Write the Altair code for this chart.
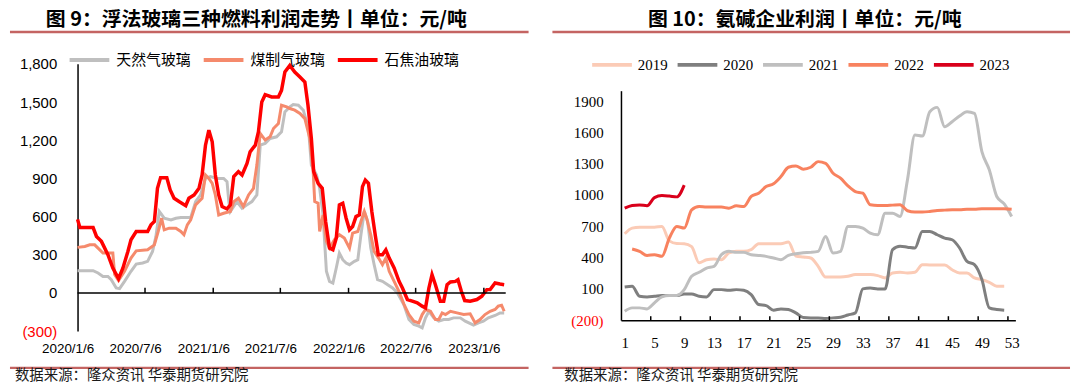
import altair as alt
import pandas as pd

# ---------------- data: left panel (weekly, x = weeks since 2020/1/6) ----------------
START = pd.Timestamp("2020-01-06")
GLASS_SERIES = ["天然气玻璃", "煤制气玻璃", "石焦油玻璃"]
GLASS_COLORS = ["#BFBFBF", "#F58A6C", "#FF0000"]

GAS = [(0,175),(6,175),(7.9,157),(9.8,130),(11.7,130),(13,104),(14.9,39),(16.2,34),(18.1,91),(20.6,170),
       (22.6,227),(25.1,235),(27,248),(28.9,326),(30.2,444),(31.5,640),(33.4,587),(36,574),(37.9,587),(39.8,592),
       (43.6,592),(45.5,718),(47.4,770),(49.3,900),(51.2,914),(53.8,900),(56.3,900),(57.6,874),(58.3,718),(58.9,640),
       (61.4,718),(63.4,666),(65.3,692),(67.2,718),(69.1,770),(70.4,1161),(72.3,1175),(74.2,1214),(76.7,1227),(78.6,1266),
       (79.9,1423),(81.8,1462),(83.1,1480),(85.1,1475),(87,1436),(89,1292),(90.1,1005),(92.1,927),(93.3,822),(94.6,613),
       (95.9,170),(97.1,91),(98.4,78),(99.7,196),(100.9,313),(102.2,261),(103.5,235),(104.8,222),(106.7,248),(108,261),
       (109.2,457),(110.5,640),(111.8,561),(113,352),(114.3,222),(115.6,104),(117.5,91),(119.5,65),(121.4,39),(123.3,0),
       (125.8,-95),(127.7,-209),(129.6,-248),(131.5,-261),(132.8,-274),(134.1,-196),(135.4,-144),(137.3,-196),(139.2,-222),
       (141.1,-209),(143,-209),(144.9,-196),(147.5,-196),(149.4,-222),(152.6,-253),(154.5,-235),(156.4,-222),(158.3,-196),
       (160.9,-177),(162.8,-157),(164.4,-157)]

COAL = [(0,358),(2.8,365),(4.7,378),(6.6,378),(7.9,352),(9.8,313),(13.6,313),(14.3,144),(15.8,97),(18.1,170),
        (20.6,274),(22.6,331),(27,339),(29.6,378),(31.1,483),(32.4,587),(33.4,496),(35.3,509),(37.9,509),(39.8,483),
        (41,457),(42.3,535),(43.6,574),(45.5,692),(46.8,718),(48,744),(49.3,927),(50.6,900),(51.9,861),(53.1,770),
        (54.4,613),(56.3,626),(58.9,640),(60.2,718),(62,744),(63.9,679),(65.9,770),(67.8,822),(69.1,1005),(70.4,1253),
        (72.3,1201),(74.2,1227),(75.5,1292),(77.4,1331),(78.6,1475),(80.6,1462),(81.8,1449),(83.7,1436),(85.7,1410),
        (87.6,1370),(89.5,1214),(90.8,953),(91.4,718),(92.7,705),(93.3,483),(94.6,613),(95.9,405),(97.1,352),(99,418),
        (100.9,457),(102.8,431),(104.8,352),(106,470),(108,483),(109.2,561),(110.5,640),(111.4,587),(113,457),(114.3,326),
        (116,274),(117.5,222),(118.8,274),(120.1,170),(122,91),(123.9,10),(125.8,-90),(127.7,-170),(129.6,-222),
        (131.5,-235),(132.8,-170),(134.1,-130),(136,-144),(137.9,-209),(139.2,-209),(140.5,-157),(141.8,-170),(143.7,-144),
        (146.2,-157),(148.8,-170),(151.3,-164),(153.2,-235),(155.1,-209),(157,-170),(159,-144),(160.9,-130),(162.1,-104),
        (163.4,-97),(164.4,-144)]

OIL = [(0,578),(0.9,514),(6,514),(7.3,444),(9.2,405),(11.7,300),(13.6,196),(15.8,112),(17.5,196),(19.4,326),
       (20.6,418),(22.6,483),(27,483),(28.3,535),(29.6,561),(30.8,822),(32,906),(34.4,906),(35.7,809),(37.2,744),
       (39.1,718),(41.7,686),(42.9,744),(44.9,770),(46.8,822),(48,927),(49.3,1161),(50.6,1279),(51.9,1188),(53.1,927),
       (54.4,770),(55.7,679),(57.6,660),(58.9,692),(60.2,914),(62,953),(63.4,927),(65.3,1018),(66.5,1109),(68.5,1161),
       (69.7,1266),(71,1501),(72.3,1558),(74.8,1540),(77.4,1540),(78.6,1592),(79.9,1736),(81.8,1788),(83.7,1736),
       (85.7,1697),(87.6,1657),(88.8,1475),(90.1,1214),(91,953),(92.7,861),(94.3,822),(95.6,561),(97.1,352),(98.4,339),
       (99.7,431),(100.9,692),(102.2,705),(103.5,587),(104.8,496),(106,522),(107.3,600),(108.6,613),(109.8,835),
       (110.9,887),(112.1,861),(113.4,640),(114.7,457),(115.9,300),(117.5,300),(118.8,339),(120.1,274),(122,196),
       (123.9,91),(125.2,39),(127.1,-52),(129,-65),(130.9,-78),(132.8,-104),(134.1,-117),(135.4,39),(136.6,144),
       (137.9,65),(139.8,-65),(141.1,-65),(142.4,65),(143.7,86),(145.6,91),(146.6,104),(147.9,13),(149.2,-60),
       (151.3,-65),(153.9,-52),(155.8,-26),(157.7,26),(159,26),(160.9,78),(162.8,70),(164.4,65)]

LEFT_TICK_DATES = ["2020-07-06", "2021-01-06", "2021-07-06", "2022-01-06", "2022-07-06", "2023-01-06"]
LEFT_LABEL_MONTHS = [(2020, 1), (2020, 7), (2021, 1), (2021, 7), (2022, 1), (2022, 7), (2023, 1)]
LEFT_Y_TICKS = [-300, 0, 300, 600, 900, 1200, 1500, 1800]

# ---------------- data: right panel (week 1..53) ----------------
YEARS = ["2019", "2020", "2021", "2022", "2023"]
YEAR_COLORS = ["#FBCBB6", "#7F7F7F", "#BFBFBF", "#F8825F", "#D9001B"]

Y2019 = [629, 683, 692, 692, 692, 699, 560, 535, 533, 505, 350, 380, 386, 380, 444, 460, 460, 476, 533, 533,
         533, 533, 549, 415, 405, 396, 316, 214, 214, 214, 221, 237, 237, 237, 227, 205, 253, 259, 253, 259,
         332, 329, 329, 329, 284, 253, 253, 205, 189, 163, 125, 125]
Y2020 = [119, 125, 29, 23, 29, 36, 36, 36, 52, 52, 29, 23, 93, 93, 87, 93, 87, 45, -50, -60,
         -104, -92, -98, -130, -175, -178, -178, -184, -178, -172, -150, -130, 100, 109, 100, 100, 476, 508, 500, 492,
         651, 651, 619, 587, 571, 492, 364, 332, 189, -82, -98, -104]
Y2021 = [-114, -82, -82, -92, -34, 23, 36, 36, 93, 221, 259, 300, 316, 428, 460, 450, 450, 428, 421, 412,
         396, 380, 421, 437, 447, 450, 460, 603, 444, 460, 699, 699, 683, 635, 619, 826, 826, 794, 1145, 1575,
         1565, 1798, 1840, 1655, 1703, 1757, 1798, 1782, 1416, 1241, 986, 915, 794]
Y2022 = [None, 482, 460, 421, 428, 412, 587, 699, 683, 858, 890, 884, 884, 884, 874, 896, 890, 986, 1017, 1081,
         1107, 1177, 1266, 1279, 1247, 1266, 1320, 1304, 1209, 1161, 1088, 1033, 1017, 906, 900, 900, 903, 906, 849, 836,
         836, 842, 852, 855, 858, 858, 864, 864, 868, 868, 868, 868, 864]
Y2023 = [874, 900, 905, 897, 975, 995, 990, 982, 1095]

RIGHT_X_LABELS = list(range(1, 54, 4))
RIGHT_TICK_POS = [4.5, 8.5, 12.5, 16.5, 20.5, 24.5, 28.5, 32.5, 36.5, 40.5, 44.5, 48.5, 52.5]
RIGHT_Y_TICKS = [-200, 100, 400, 700, 1000, 1300, 1600, 1900]

TITLE_L = "图 9：浮法玻璃三种燃料利润走势丨单位：元/吨"
TITLE_R = "图 10：氨碱企业利润丨单位：元/吨"
SOURCE = "数据来源：隆众资讯 华泰期货研究院"

CJK = "Noto Sans CJK SC"
SEP_COLOR = "#C46462"

# ---------------- tables ----------------
rows = []
for name, pts in zip(GLASS_SERIES, [GAS, COAL, OIL]):
    for w, v in pts:
        d = START + pd.Timedelta(days=w * 7)
        rows.append({"series": name, "date": d.strftime("%Y-%m-%dT%H:%M:%S"), "value": v})
glass = pd.DataFrame(rows)

ticks_l = pd.DataFrame({"date": [d + "T00:00:00" for d in LEFT_TICK_DATES], "y0": 0, "y1": 40})

rows = []
for yr, vals in zip(YEARS, [Y2019, Y2020, Y2021, Y2022, Y2023]):
    for i, v in enumerate(vals):
        if v is not None:
            rows.append({"year": yr, "week": i + 1, "value": v})
soda = pd.DataFrame(rows)
ticks_r = pd.DataFrame({"pos": RIGHT_TICK_POS, "y0": -200, "y1": -162})

# ---------------- left panel ----------------
WL, HL = 431, 269
xs_l = alt.Scale(domain=[alt.DateTime(year=2020, month=1, date=6), alt.DateTime(year=2023, month=3, date=6)], nice=False)
ys_l = alt.Scale(domain=[-300, 1800], nice=False, zero=False)
xax_l = alt.Axis(values=[alt.DateTime(year=y, month=m, date=6) for y, m in LEFT_LABEL_MONTHS],
                 format="%Y/%-m/%-d", title=None, ticks=False, domain=False, grid=False,
                 labelFont="Liberation Sans", labelFontSize=13.5, labelColor="black",
                 labelPadding=11, labelOffset=-10, labelFlush=False, labelOverlap=False, labelAlign="center")
yax_l = alt.Axis(values=LEFT_Y_TICKS, title=None, ticks=False, grid=False, domainColor="black", domainWidth=1.5,
                 labelFont="Liberation Sans", labelFontSize=15, labelPadding=21,
                 labelExpr="datum.value < 0 ? '(' + format(-datum.value, ',') + ')' : format(datum.value, ',')",
                 labelColor={"condition": {"test": "datum.value < 0", "value": "#FF0000"}, "value": "black"})
color_l = alt.Color("series:N", scale=alt.Scale(domain=GLASS_SERIES, range=GLASS_COLORS),
                    legend=alt.Legend(orient="none", legendX=-10, legendY=-26, direction="horizontal", title=None,
                                      symbolType="stroke", symbolSize=1600, symbolStrokeWidth=4,
                                      labelFont=CJK, labelFontSize=15, labelColor="black", labelOffset=5,
                                      columnPadding=4, padding=0))

base_l = alt.Chart(glass)
lines_l = []
for name, sw in zip(GLASS_SERIES, [3, 3, 3.5]):
    lines_l.append(base_l.transform_filter(alt.datum.series == name).mark_line(strokeWidth=sw).encode(
        x=alt.X("date:T", scale=xs_l, axis=xax_l),
        y=alt.Y("value:Q", scale=ys_l, axis=yax_l),
        color=color_l))

zero_l = alt.Chart(pd.DataFrame({"v": [0]})).mark_rule(color="black", strokeWidth=1.5).encode(
    y=alt.Y("v:Q", scale=ys_l, axis=yax_l))
tick_l = alt.Chart(ticks_l).mark_rule(color="black", strokeWidth=1.5).encode(
    x=alt.X("date:T", scale=xs_l, axis=xax_l), y=alt.Y("y0:Q", scale=ys_l, axis=yax_l), y2="y1:Q")

title_l = alt.Chart(pd.DataFrame({"t": [TITLE_L]})).mark_text(
    font=CJK, fontSize=20, fontWeight="bold", color="black", align="center", baseline="middle").encode(
    x=alt.value(180), y=alt.value(-44), text="t:N")
sep_top_l = alt.Chart(pd.DataFrame({"a": [0]})).mark_rule(color=SEP_COLOR, strokeWidth=2.5).encode(
    x=alt.value(-68), x2=alt.value(454), y=alt.value(-32))
sep_bot_l = alt.Chart(pd.DataFrame({"a": [0]})).mark_rule(color=SEP_COLOR, strokeWidth=2.5).encode(
    x=alt.value(-68), x2=alt.value(454), y=alt.value(306))
src_l = alt.Chart(pd.DataFrame({"t": [SOURCE]})).mark_text(
    font=CJK, fontSize=14.5, color="#1a1a1a", align="left", baseline="middle").encode(
    x=alt.value(-63), y=alt.value(314), text="t:N")

left = alt.layer(*lines_l, zero_l, tick_l, title_l, sep_top_l, sep_bot_l, src_l).properties(width=WL, height=HL)

# ---------------- right panel ----------------
WR, HR = 397, 258
xs_r = alt.Scale(domain=[0.5, 53.5], nice=False, zero=False)
ys_r = alt.Scale(domain=[-200, 2000], range=[258, 27], nice=False, zero=False)
xax_r = alt.Axis(values=RIGHT_X_LABELS, title=None, ticks=False, grid=False, domainColor="black", domainWidth=1.5,
                 labelFont="Liberation Serif", labelFontSize=15, labelColor="black", labelPadding=15,
                 labelFlush=False, labelOverlap=False)
yax_r = alt.Axis(values=RIGHT_Y_TICKS, title=None, ticks=False, grid=False, domainColor="black", domainWidth=1.5,
                 labelFont="Liberation Serif", labelFontSize=15, labelPadding=18,
                 labelExpr="datum.value < 0 ? '(' + (-datum.value) + ')' : '' + datum.value",
                 labelColor={"condition": {"test": "datum.value < 0", "value": "#FF0000"}, "value": "black"})
color_r = alt.Color("year:N", scale=alt.Scale(domain=YEARS, range=YEAR_COLORS),
                    legend=alt.Legend(orient="none", legendX=-31, legendY=-21, direction="horizontal", title=None,
                                      symbolType="stroke", symbolSize=1600, symbolStrokeWidth=4,
                                      labelFont="Liberation Serif", labelFontSize=15, labelColor="black",
                                      labelOffset=4, columnPadding=2, padding=0))

base_r = alt.Chart(soda)
lines_r = []
for yr in YEARS:
    lines_r.append(base_r.transform_filter(alt.datum.year == yr).mark_line(strokeWidth=3, interpolate="monotone").encode(
        x=alt.X("week:Q", scale=xs_r, axis=xax_r),
        y=alt.Y("value:Q", scale=ys_r, axis=yax_r),
        color=color_r))

tick_r = alt.Chart(ticks_r).mark_rule(color="black", strokeWidth=1.5).encode(
    x=alt.X("pos:Q", scale=xs_r, axis=xax_r), y=alt.Y("y0:Q", scale=ys_r, axis=yax_r), y2="y1:Q")
title_r = alt.Chart(pd.DataFrame({"t": [TITLE_R]})).mark_text(
    font=CJK, fontSize=20, fontWeight="bold", color="black", align="center", baseline="middle").encode(
    x=alt.value(185), y=alt.value(-44), text="t:N")
sep_top_r = alt.Chart(pd.DataFrame({"a": [0]})).mark_rule(color=SEP_COLOR, strokeWidth=2.5).encode(
    x=alt.value(-69), x2=alt.value(452), y=alt.value(-32))
sep_bot_r = alt.Chart(pd.DataFrame({"a": [0]})).mark_rule(color=SEP_COLOR, strokeWidth=2.5).encode(
    x=alt.value(-69), x2=alt.value(452), y=alt.value(306))
src_r = alt.Chart(pd.DataFrame({"t": [SOURCE]})).mark_text(
    font=CJK, fontSize=14.5, color="#1a1a1a", align="left", baseline="middle").encode(
    x=alt.value(-57), y=alt.value(314), text="t:N")

right = alt.layer(*lines_r, tick_r, title_r, sep_top_r, sep_bot_r, src_r).properties(width=WR, height=HR)

chart = alt.hconcat(left, right, spacing=20).resolve_scale(color="independent").properties(
    padding={"top": 1, "left": 0, "right": 0, "bottom": 0}).configure_view(stroke=None)

chart.save("out.html", embed_options={"renderer": "svg", "actions": False})
